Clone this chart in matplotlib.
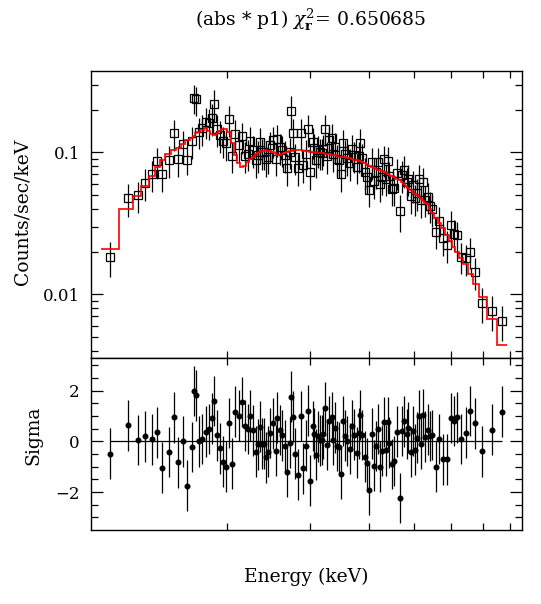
import numpy as np
import matplotlib
matplotlib.use("Agg")
import matplotlib.pyplot as plt
from matplotlib.ticker import FixedLocator, NullLocator, NullFormatter, FixedFormatter

plt.rcParams['font.family'] = ['DejaVu Serif']
plt.rcParams['mathtext.fontset'] = 'dejavuserif'

# ---------------- data ----------------
energy = [1.1267, 1.2309, 1.2885, 1.3379, 1.3824, 1.4189, 1.4540, 1.4999, 1.5371, 1.5727,
          1.6117, 1.6436, 1.6816, 1.7010, 1.7178, 1.7375, 1.7691, 1.7982, 1.8278, 1.8519,
          1.8763, 1.9010, 1.9292, 1.9546, 1.9869, 2.0164, 2.0496, 2.0766, 2.1143, 2.1527,
          2.1775, 2.2098, 2.2389, 2.2721, 2.3020, 2.3247, 2.3515, 2.3708, 2.3941, 2.4138,
          2.4376, 2.4697, 2.4981, 2.5351, 2.5559, 2.5895, 2.6151, 2.6495, 2.6844, 2.7197,
          2.7375, 2.7645, 2.7918, 2.8285, 2.8656, 2.9034, 2.9368, 2.9658, 2.9998, 3.0392,
          3.0641, 3.0944, 3.1249, 3.1505, 3.1763, 3.2024, 3.2286, 3.2658, 3.2926, 3.3359,
          3.3633, 3.3965, 3.4243, 3.4637, 3.4979, 3.5265, 3.5671, 3.6022, 3.6497, 3.6857,
          3.7220, 3.7710, 3.8144, 3.8394, 3.8709, 3.9218, 3.9605, 4.0129, 4.0657, 4.1125,
          4.1531, 4.1940, 4.2283, 4.2771, 4.3121, 4.3547, 4.3976, 4.4264, 4.4774, 4.5290,
          4.5962, 4.6643, 4.7180, 4.7643, 4.8192, 4.8588, 4.9147, 4.9794, 5.0285, 5.0697,
          5.1197, 5.1786, 5.2297, 5.2813, 5.3420, 5.4035, 5.4657, 5.5649, 5.6567, 5.7593,
          5.8734, 5.9896, 6.0686, 6.1687, 6.3012, 6.4364, 6.5853, 6.7378, 6.9843, 7.3114,
          7.6790]

rate = [0.0183, 0.0475, 0.0498, 0.0609, 0.0699, 0.0862, 0.0701, 0.0884, 0.1361, 0.0892,
        0.1138, 0.0881, 0.1204, 0.2416, 0.2356, 0.1400, 0.1473, 0.1646, 0.1618, 0.1742,
        0.2198, 0.1457, 0.1327, 0.1208, 0.1160, 0.1707, 0.0948, 0.1343, 0.1120, 0.1293,
        0.0948, 0.0979, 0.1197, 0.1042, 0.0883, 0.0961, 0.1181, 0.0998, 0.1007, 0.0892,
        0.0934, 0.1118, 0.1216, 0.0901, 0.1244, 0.1082, 0.1043, 0.0954, 0.0775, 0.1013,
        0.1963, 0.1364, 0.0920, 0.0777, 0.1377, 0.0813, 0.0978, 0.1455, 0.0728, 0.1192,
        0.1081, 0.0879, 0.1042, 0.0998, 0.0997, 0.1061, 0.1468, 0.0944, 0.1213, 0.1270,
        0.0972, 0.1098, 0.0900, 0.0880, 0.0705, 0.1156, 0.0974, 0.0914, 0.0844, 0.1063,
        0.0952, 0.0794, 0.0947, 0.1169, 0.0912, 0.0729, 0.0674, 0.0545, 0.0854, 0.0625,
        0.0732, 0.0860, 0.0596, 0.0671, 0.0891, 0.0654, 0.0868, 0.0686, 0.0556, 0.0558,
        0.0720, 0.0387, 0.0691, 0.0748, 0.0623, 0.0653, 0.0493, 0.0588, 0.0473, 0.0518,
        0.0649, 0.0460, 0.0617, 0.0464, 0.0486, 0.0422, 0.0400, 0.0276, 0.0327, 0.0249,
        0.0223, 0.0308, 0.0268, 0.0260, 0.0184, 0.0179, 0.0200, 0.0143, 0.0087, 0.00766,
        0.0065]

rate_err = [0.0051, 0.0124, 0.0125, 0.0152, 0.0175, 0.0215, 0.0175, 0.0221, 0.0340, 0.0223,
            0.0285, 0.0194, 0.0301, 0.0556, 0.0542, 0.0350, 0.0368, 0.0412, 0.0405, 0.0436,
            0.0550, 0.0364, 0.0332, 0.0302, 0.0290, 0.0427, 0.0237, 0.0336, 0.0280, 0.0323,
            0.0237, 0.0245, 0.0299, 0.0261, 0.0221, 0.0240, 0.0295, 0.0250, 0.0252, 0.0223,
            0.0234, 0.0280, 0.0304, 0.0225, 0.0311, 0.0270, 0.0261, 0.0239, 0.0194, 0.0253,
            0.0530, 0.0341, 0.0230, 0.0194, 0.0344, 0.0203, 0.0245, 0.0364, 0.0182, 0.0298,
            0.0270, 0.0220, 0.0261, 0.0250, 0.0249, 0.0265, 0.0367, 0.0236, 0.0303, 0.0317,
            0.0243, 0.0275, 0.0225, 0.0220, 0.0176, 0.0289, 0.0243, 0.0229, 0.0211, 0.0266,
            0.0238, 0.0198, 0.0237, 0.0292, 0.0228, 0.0182, 0.0168, 0.0136, 0.0214, 0.0156,
            0.0183, 0.0215, 0.0149, 0.0168, 0.0223, 0.0164, 0.0217, 0.0172, 0.0139, 0.0140,
            0.0180, 0.0112, 0.0173, 0.0187, 0.0156, 0.0163, 0.0123, 0.0147, 0.0118, 0.0130,
            0.0162, 0.0115, 0.0154, 0.0116, 0.0121, 0.0106, 0.0100, 0.0069, 0.0082, 0.0062,
            0.0056, 0.0077, 0.0067, 0.0065, 0.0046, 0.0045, 0.0050, 0.0036, 0.0024, 0.0021,
            0.0018]

model = [0.0207, 0.0397, 0.0492, 0.0579, 0.0685, 0.0784, 0.0883, 0.0977, 0.1038, 0.1077,
         0.1138, 0.1220, 0.1270, 0.1310, 0.1370, 0.1400, 0.1440, 0.1490, 0.1420, 0.1346,
         0.1324, 0.1370, 0.1420, 0.1450, 0.1450, 0.1400, 0.1157, 0.0950, 0.0837, 0.0792,
         0.0801, 0.0859, 0.0895, 0.0930, 0.0973, 0.0990, 0.1010, 0.1020, 0.1030, 0.1033,
         0.1030, 0.1026, 0.1000, 0.0984, 0.0955, 0.0960, 0.0980, 0.0995, 0.1010, 0.1026,
         0.1030, 0.1033, 0.1033, 0.1033, 0.1033, 0.1030, 0.1020, 0.1015, 0.1010, 0.1010,
         0.1000, 0.0995, 0.0990, 0.0988, 0.0985, 0.0984, 0.0980, 0.0975, 0.0970, 0.0965,
         0.0960, 0.0950, 0.0940, 0.0933, 0.0930, 0.0925, 0.0920, 0.0912, 0.0905, 0.0898,
         0.0890, 0.0883, 0.0871, 0.0865, 0.0855, 0.0840, 0.0820, 0.0805, 0.0790, 0.0775,
         0.0765, 0.0755, 0.0745, 0.0733, 0.0722, 0.0713, 0.0705, 0.0695, 0.0680, 0.0667,
         0.0652, 0.0638, 0.0620, 0.0600, 0.0578, 0.0565, 0.0545, 0.0528, 0.0512, 0.0500,
         0.0485, 0.0470, 0.0455, 0.0443, 0.0430, 0.0400, 0.0375, 0.0345, 0.0320, 0.0293,
         0.0263, 0.0237, 0.0214, 0.0198, 0.0180, 0.0164, 0.0140, 0.0118, 0.0096, 0.00667,
         0.00437]

sigma = [-0.49, 0.63, 0.05, 0.20, 0.08, 0.36, -1.04, -0.42, 0.95, -0.83,
         0.00, -1.75, -0.22, 1.99, 1.82, 0.00, 0.09, 0.38, 0.49, 0.91,
         1.59, 0.24, -0.28, -0.80, -1.00, 0.72, -0.88, 1.17, 1.01, 1.55,
         0.62, 0.49, 1.01, 0.43, -0.41, -0.12, 0.58, -0.09, -0.09, -0.63,
         -0.41, 0.33, 0.71, -0.37, 0.93, 0.45, 0.24, -0.17, -1.21, -0.05,
         1.76, 0.97, -0.49, -1.32, 1.00, -1.07, -0.17, 1.21, -1.55, 0.61,
         0.30, -0.53, 0.20, 0.04, 0.05, 0.29, 1.33, -0.13, 0.80, 0.96,
         0.05, 0.54, -0.18, -0.24, -1.28, 0.80, 0.22, 0.01, -0.29, 0.62,
         0.26, -0.45, 0.32, 1.04, 0.25, -0.61, -0.87, -1.91, 0.30, -0.96,
         -0.18, 0.49, -1.00, -0.37, 0.76, -0.36, 0.75, -0.05, -0.89, -0.78,
         0.38, -2.24, 0.41, 0.79, 0.29, 0.54, -0.42, 0.41, -0.33, 0.14,
         1.01, -0.09, 1.05, 0.18, 0.46, 0.21, 0.25, -1.00, 0.09, -0.71,
         -0.71, 0.92, 0.80, 0.95, 0.09, 0.34, 1.20, 0.71, -0.39, 0.46,
         1.17]

x_ticks = [2, 3, 4, 5, 6, 7, 8]
top_yticks = [0.01, 0.1]
top_ylabels = ["0.01", "0.1"]
bot_yticks = [-2, 0, 2]
bot_ylabels = ["\u22122", "0", "2"]

title = r"(abs * p1) $\chi^2_{\mathbf{r}}$= 0.650685"

# ---------------- figure ----------------
W, H = 541, 604
fig = plt.figure(figsize=(W / 100, H / 100), dpi=100)

ax1 = fig.add_axes([91 / W, 1 - 358 / H, (522 - 91) / W, (358 - 71) / H])
ax2 = fig.add_axes([91 / W, 1 - 530 / H, (522 - 91) / W, (530 - 358) / H], sharex=ax1)

E = np.array(energy)
edges_mid = np.sqrt(E[:-1] * E[1:])
edges = np.concatenate([[E[0] ** 2 / edges_mid[0]], edges_mid, [E[-1] ** 2 / edges_mid[-1]]])

lw = 0.9
# top panel
ax1.errorbar(energy, rate, yerr=rate_err, fmt='s', mfc='none', mec='black',
             ms=5.3, mew=0.9, ecolor='black', elinewidth=lw, capsize=0, zorder=3)
ax1.stairs(model, edges, baseline=None, color='#ff0000', lw=1.2, zorder=4)
ax1.set_xscale('log')
ax1.set_yscale('log')
ax1.set_xlim(1.025, 8.485)
ax1.set_ylim(0.00356, 0.374)

# bottom panel
ax2.errorbar(energy, sigma, yerr=1.0, fmt='o', color='black', ms=3.3,
             ecolor='black', elinewidth=lw, capsize=0, zorder=3)
ax2.hlines(0, E[0], E[-1], color='black', lw=0.9, zorder=2)
ax2.set_ylim(-3.50, 3.29)

for ax in (ax1, ax2):
    for s in ax.spines.values():
        s.set_linewidth(1.0)
    ax.xaxis.set_major_locator(NullLocator())
    ax.xaxis.set_minor_locator(FixedLocator(x_ticks))
    ax.xaxis.set_major_formatter(NullFormatter())
    ax.xaxis.set_minor_formatter(NullFormatter())
    ax.tick_params(which='both', direction='in', top=True, right=True,
                   bottom=True, left=True, width=0.9, colors='black')
    ax.tick_params(which='major', length=8.5, pad=8, labelsize=12)
    ax.tick_params(which='minor', length=5)

ax1.yaxis.set_major_locator(FixedLocator(top_yticks))
ax1.yaxis.set_major_formatter(FixedFormatter(top_ylabels))
ax1.yaxis.set_minor_locator(FixedLocator(
    [m * 10.0 ** p for p in (-3, -2, -1) for m in range(2, 10)]))
ax1.yaxis.set_minor_formatter(NullFormatter())

ax2.yaxis.set_major_locator(FixedLocator(bot_yticks))
ax2.yaxis.set_major_formatter(FixedFormatter(bot_ylabels))
ax2.yaxis.set_minor_locator(FixedLocator([-3, -2.5, -1.5, -1, -0.5, 0.5, 1, 1.5, 2.5, 3]))
ax2.yaxis.set_minor_formatter(NullFormatter())

fig.text(23 / W, 1 - 212 / H, "Counts/sec/keV", rotation=90, ha='center', va='center', fontsize=13.5)
fig.text(33 / W, 1 - 435 / H, "Sigma", rotation=90, ha='center', va='center', fontsize=13.5)
fig.text(306.5 / W, 1 - 577 / H, "Energy (keV)", ha='center', va='center', fontsize=13.5)
fig.text(311 / W, 1 - 20 / H, title, ha='center', va='center', fontsize=13.5)

fig.savefig("out.png", dpi=100)
